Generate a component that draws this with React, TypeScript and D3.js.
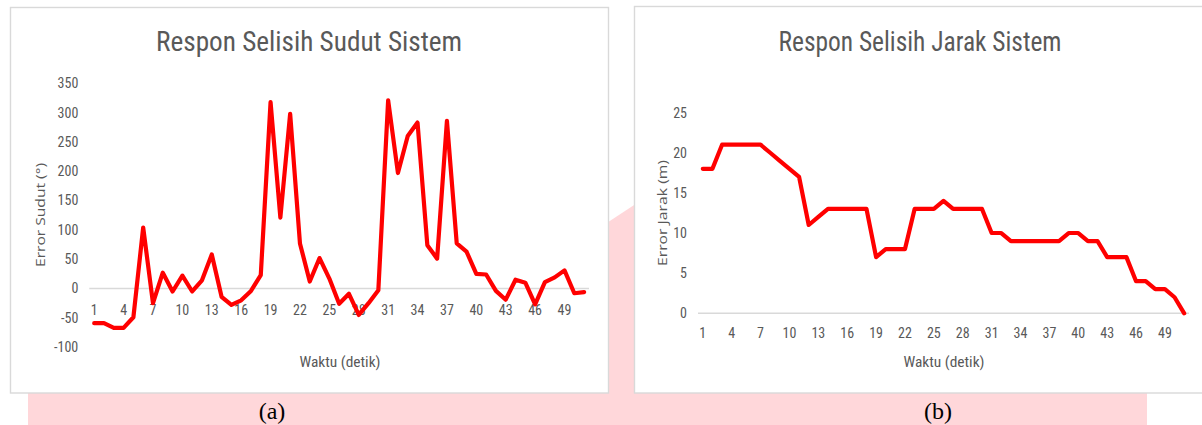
import React from "react";
import * as d3 from "d3";

// ---------- data ----------
const waktu = [
  1, 2, 3, 4, 5, 6, 7, 8, 9, 10, 11, 12, 13, 14, 15, 16, 17, 18, 19, 20, 21, 22, 23, 24, 25,
  26, 27, 28, 29, 30, 31, 32, 33, 34, 35, 36, 37, 38, 39, 40, 41, 42, 43, 44, 45, 46, 47, 48,
  49, 50, 51,
];

const errorSudut = [
  -59, -59, -67, -67, -49, 104, -25, 27, -5, 22, -5, 14, 58, -14, -28, -20, -4, 23, 318, 121,
  298, 77, 12, 52, 17, -26, -9, -45, -25, -3, 321, 197, 260, 283, 74, 51, 286, 77, 63, 25, 24,
  -4, -19, 15, 10, -27, 11, 19, 31, -8, -6,
];

const errorJarak = [
  18, 18, 21, 21, 21, 21, 21, 20, 19, 18, 17, 11, 12, 13, 13, 13, 13, 13, 7, 8, 8, 8, 13, 13,
  13, 14, 13, 13, 13, 13, 10, 10, 9, 9, 9, 9, 9, 9, 10, 10, 9, 9, 7, 7, 7, 4, 4, 3, 3, 2, 0,
];

const xTickLabels = [1, 4, 7, 10, 13, 16, 19, 22, 25, 28, 31, 34, 37, 40, 43, 46, 49];
const yTicksSudut = [-100, -50, 0, 50, 100, 150, 200, 250, 300, 350];
const yTicksJarak = [0, 5, 10, 15, 20, 25];

const TITLE_A = "Respon Selisih Sudut Sistem";
const TITLE_B = "Respon Selisih Jarak Sistem";
const YLABEL_A = "Error Sudut (°)";
const YLABEL_B = "Error Jarak (m)";
const XLABEL = "Waktu (detik)";

// ---------- styles ----------
const GRAY_TEXT = "#595959";
const AXIS_GRAY = "#d9d9d9";
const PINK = "#ffd7da";
const LINE_RED = "#ff0000";
const NARROW = "'Liberation Sans Narrow', 'Arial Narrow', 'Roboto Condensed', sans-serif";

type PanelProps = {
  frame: { x0: number; y0: number; x1: number; y1: number };
  xRange: [number, number];
  yDomain: [number, number];
  yRange: [number, number];
  yTicks: number[];
  values: number[];
  title: string;
  titleX: number;
  titleW: number;
  yLabel: string;
  yLabelX: number;
  yLabelY: number;
  yLabelW: number;
  xLabelX: number;
  xTickOffset: number;
};

function Panel(p: PanelProps) {
  const x = d3.scaleBand<number>().domain(waktu).range(p.xRange).padding(0);
  const y = d3.scaleLinear().domain(p.yDomain).range(p.yRange);
  const cx = (d: number) => (x(d) as number) + x.bandwidth() / 2;
  const line = d3
    .line<number>()
    .x((_, i) => cx(waktu[i]))
    .y((v) => y(v));
  const y0 = y(0);
  const { x0, y0: fy0, x1, y1 } = p.frame;
  return (
    <g>
      <rect x={x0} y={fy0} width={x1 - x0} height={y1 - fy0} fill="#fff" stroke={AXIS_GRAY} strokeWidth={1.4} />
      <text
        x={p.titleX}
        y={51}
        textAnchor="middle"
        fontFamily={NARROW}
        fontSize={27}
        fill={GRAY_TEXT}
        textLength={p.titleW}
        lengthAdjust="spacingAndGlyphs"
      >
        {p.title}
      </text>
      {/* zero / category axis line */}
      <line x1={p.xRange[0]} x2={p.xRange[1]} y1={y0} y2={y0} stroke={AXIS_GRAY} strokeWidth={1.5} />
      {/* y tick labels */}
      {p.yTicks.map((t) => (
        <text
          key={"y" + t}
          x={p.xRange[0] - 11}
          y={y(t)}
          dy="0.35em"
          textAnchor="end"
          fontFamily={NARROW}
          fontSize={14}
          fill={GRAY_TEXT}
        >
          {t}
        </text>
      ))}
      {/* x tick labels */}
      {xTickLabels.map((t) => (
        <text
          key={"x" + t}
          x={cx(t)}
          y={y0 + p.xTickOffset}
          dy="0.35em"
          textAnchor="middle"
          fontFamily={NARROW}
          fontSize={14}
          fill={GRAY_TEXT}
        >
          {t}
        </text>
      ))}
      <text
        transform={`translate(${p.yLabelX},${p.yLabelY}) rotate(-90)`}
        textAnchor="middle"
        dy="0.35em"
        fontFamily="'Open Sans', 'DejaVu Sans', sans-serif"
        fontSize={13}
        fill={GRAY_TEXT}
        textLength={p.yLabelW}
        lengthAdjust="spacingAndGlyphs"
      >
        {p.yLabel}
      </text>
      <text
        x={p.xLabelX}
        y={362}
        dy="0.35em"
        textAnchor="middle"
        fontFamily={NARROW}
        fontSize={15}
        fill={GRAY_TEXT}
        textLength={81}
        lengthAdjust="spacingAndGlyphs"
      >
        {XLABEL}
      </text>
      <path
        d={line(p.values) || ""}
        fill="none"
        stroke={LINE_RED}
        strokeWidth={4.2}
        strokeLinejoin="round"
        strokeLinecap="round"
      />
    </g>
  );
}

export default function App() {
  return (
    <svg
      width={1202}
      height={425}
      viewBox="0 0 1202 425"
      style={{ position: "absolute", left: 0, top: 0, background: "#fff" }}
    >
      {/* pink background watermark */}
      <rect x={28} y={385} width={1119} height={40} fill={PINK} />
      <polygon points="590,234 660,188 660,395 590,395" fill={PINK} />

      <Panel
        frame={{ x0: 10.5, y0: 7.5, x1: 608.5, y1: 393 }}
        xRange={[89.3, 589]}
        yDomain={[-100, 350]}
        yRange={[347.2, 83.3]}
        yTicks={yTicksSudut}
        values={errorSudut}
        title={TITLE_A}
        titleX={309}
        titleW={306}
        yLabel={YLABEL_A}
        yLabelX={40}
        yLabelY={215}
        yLabelW={104}
        xLabelX={340}
        xTickOffset={22}
      />
      <Panel
        frame={{ x0: 634.5, y0: 6.5, x1: 1210, y1: 393 }}
        xRange={[698, 1189]}
        yDomain={[0, 25]}
        yRange={[313.3, 112.6]}
        yTicks={yTicksJarak}
        values={errorJarak}
        title={TITLE_B}
        titleX={920}
        titleW={283}
        yLabel={YLABEL_B}
        yLabelX={662}
        yLabelY={213}
        yLabelW={106}
        xLabelX={944}
        xTickOffset={20}
      />

      <text x={272} y={419} textAnchor="middle" fontFamily="'Liberation Serif', 'Times New Roman', serif" fontSize={24} fill="#000">
        (a)
      </text>
      <text x={938} y={419} textAnchor="middle" fontFamily="'Liberation Serif', 'Times New Roman', serif" fontSize={24} fill="#000">
        (b)
      </text>
    </svg>
  );
}
